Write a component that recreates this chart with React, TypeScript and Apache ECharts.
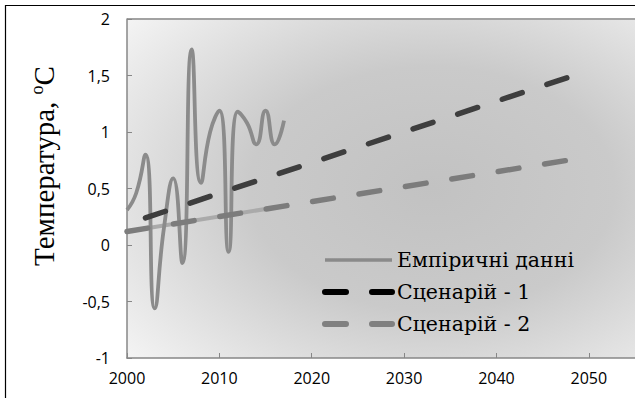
import { useEffect, useRef } from 'react';
import * as echarts from 'echarts';

const empYears = [2000, 2001, 2002, 2003, 2004, 2005, 2006, 2007, 2008, 2009, 2010, 2011, 2012, 2013, 2014, 2015, 2016, 2017];
const empValues = [0.31, 0.46, 0.8, -0.56, 0.15, 0.59, -0.16, 1.73, 0.55, 1.0, 1.19, -0.06, 1.18, 1.08, 0.89, 1.19, 0.89, 1.1];
const s1Years = [2002, 2048];
const s1Values = [0.24, 1.49];
const s2Years = [2000, 2050];
const s2Values = [0.12, 0.78];
const trendYears = [2000, 2017];
const trendValues = [0.12, 0.345];
const legendNames = ['Емпіричні данні', 'Сценарій - 1', 'Сценарій - 2'];
const yTitle = 'Температура, ';

const zip = (xs: number[], ys: number[]) => xs.map((x, i) => [x, ys[i]]);

export default function App() {
  const ref = useRef<HTMLDivElement>(null);
  useEffect(() => {
    if (!ref.current) return;
    const chart = echarts.init(ref.current, undefined, { renderer: 'svg' });
    const axisColor = '#878787';
    chart.setOption({
      animation: false,
      backgroundColor: '#ffffff',
      grid: {
        left: 127,
        right: 0,
        top: 19,
        bottom: 40,
        show: true,
        borderWidth: 0,
        backgroundColor: {
          type: 'radial',
          x: 0.6,
          y: 0.5,
          r: 0.8,
          colorStops: [
            { offset: 0, color: '#c2c2c2' },
            { offset: 0.45, color: '#cacaca' },
            { offset: 1, color: '#f6f6f6' },
          ],
        },
      },
      xAxis: {
        type: 'value',
        min: 2000,
        max: 2055,
        interval: 10,
        axisLine: { show: true, onZero: false, lineStyle: { color: axisColor, width: 1.5 } },
        axisTick: { show: true, inside: true, length: 5, lineStyle: { color: axisColor } },
        splitLine: { show: false },
        axisLabel: {
          color: '#000',
          fontFamily: 'Open Sans',
          fontSize: 16,
          margin: 12,
          showMaxLabel: false,
          formatter: (v: number) => String(v),
        },
      },
      yAxis: {
        type: 'value',
        min: -1,
        max: 2,
        interval: 0.5,
        axisLine: { show: true, onZero: false, lineStyle: { color: axisColor, width: 1.5 } },
        axisTick: { show: true, inside: true, length: 5, lineStyle: { color: axisColor } },
        splitLine: { show: false },
        axisLabel: {
          color: '#000',
          fontFamily: 'Open Sans',
          fontSize: 16,
          margin: 17,
          formatter: (v: number) => String(v).replace('.', ','),
        },
      },
      legend: {
        orient: 'vertical',
        left: 322,
        top: 249,
        padding: 0,
        itemWidth: 67,
        itemHeight: 14,
        itemGap: 10,
        itemTextGap: 8,
        textStyle: { fontFamily: 'DejaVu Serif', fontSize: 20.5, color: '#000', lineHeight: 22 },
        data: [
          { name: legendNames[0], itemStyle: { opacity: 0 }, lineStyle: { color: '#8a8a8a', width: 3.5 } },
          { name: legendNames[1], itemStyle: { opacity: 0 }, lineStyle: { color: '#000000', width: 6, type: [21, 26], cap: 'round' } },
          { name: legendNames[2], itemStyle: { opacity: 0 }, lineStyle: { color: '#808080', width: 6, type: [21, 26], cap: 'round' } },
        ],
      },
      graphic: [
        {
          type: 'polyline',
          shape: { points: [[5.5, 400], [5.5, 5.5], [640, 5.5]] },
          style: { stroke: '#000', lineWidth: 1.2, fill: 'none' },
          silent: true,
        },
        {
          type: 'line',
          shape: { x1: 127, y1: 19, x2: 640, y2: 19 },
          style: { stroke: '#a2a2a2', lineWidth: 2 },
          silent: true,
        },
        {
          type: 'text',
          x: 44,
          y: 166,
          rotation: Math.PI / 2,
          style: {
            text: '{a|' + yTitle + '}{s|o}{a|С}',
            align: 'center',
            verticalAlign: 'middle',
            rich: {
              a: { fontFamily: 'Liberation Serif', fontSize: 29, fill: '#000', lineHeight: 32 },
              s: { fontFamily: 'Liberation Serif', fontSize: 18, fill: '#000', verticalAlign: 'top', lineHeight: 32 },
            },
          },
          silent: true,
        },
      ],
      series: [
        {
          name: 'trend',
          type: 'line',
          data: zip(trendYears, trendValues),
          symbol: 'none',
          lineStyle: { color: '#aaaaaa', width: 4 },
          z: 1,
        },
        {
          name: legendNames[0],
          type: 'line',
          data: zip(empYears, empValues),
          smooth: 0.55,
          symbol: 'none',
          itemStyle: { color: '#8b8b8b' },
          lineStyle: { color: '#8b8b8b', width: 3.8 },
          z: 2,
        },
        {
          name: legendNames[1],
          type: 'line',
          data: zip(s1Years, s1Values),
          symbol: 'none',
          itemStyle: { color: '#3e3e3e' },
          lineStyle: { color: '#3e3e3e', width: 5.5, type: [21, 26], cap: 'round' },
          z: 3,
        },
        {
          name: legendNames[2],
          type: 'line',
          data: zip(s2Years, s2Values),
          symbol: 'none',
          itemStyle: { color: '#7c7c7c' },
          lineStyle: { color: '#7c7c7c', width: 5.5, type: [21, 26], cap: 'round' },
          z: 3,
        },
      ],
    });
    return () => chart.dispose();
  }, []);
  return <div ref={ref} style={{ position: 'fixed', left: 0, top: 0, width: 635, height: 398 }} />;
}
